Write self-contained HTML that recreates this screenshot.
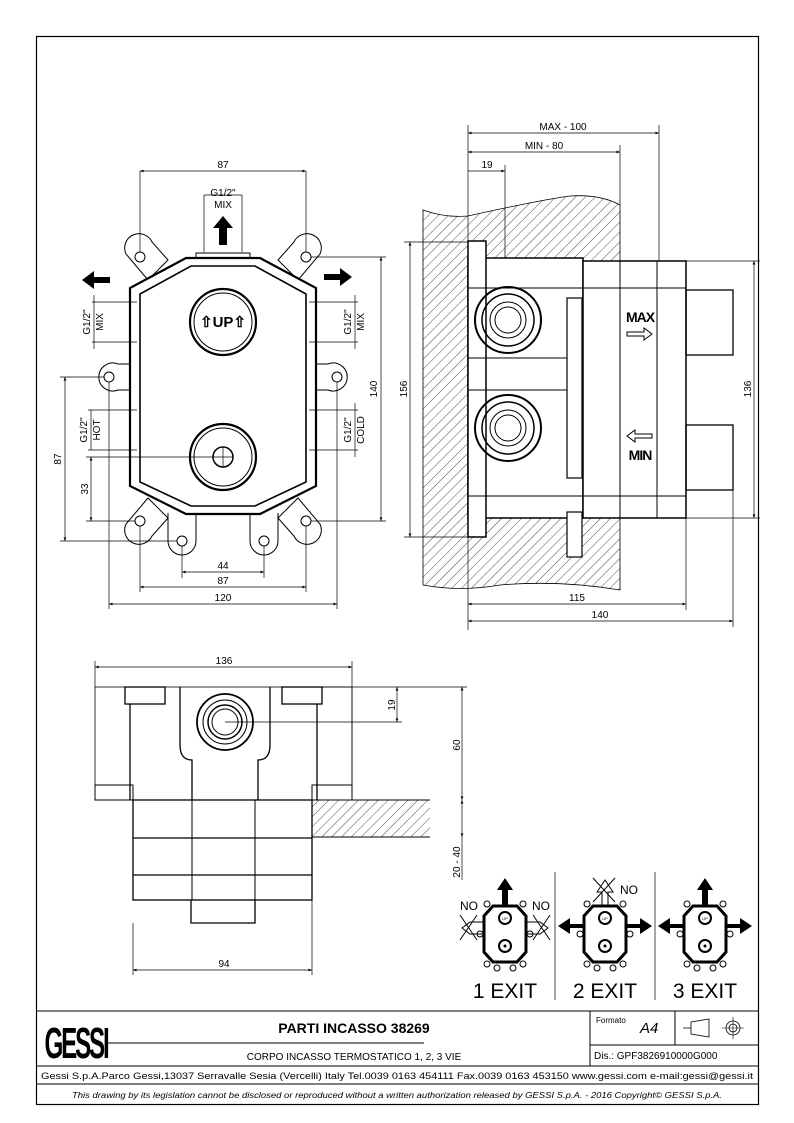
<!DOCTYPE html>
<html><head><meta charset="utf-8"><style>
html,body{margin:0;padding:0;background:#fff}
svg{display:block}
text{font-family:"Liberation Sans",sans-serif;fill:#000}
</style></head><body>
<svg width="794" height="1123" viewBox="0 0 794 1123" xmlns="http://www.w3.org/2000/svg">
<defs>
<pattern id="h" width="7" height="7" patternUnits="userSpaceOnUse" patternTransform="rotate(45)">
<line x1="0" y1="0" x2="0" y2="7" stroke="#000" stroke-width="0.7"/></pattern>
<marker id="a" viewBox="0 0 10 10" refX="10" refY="5" markerWidth="7" markerHeight="5" orient="auto-start-reverse"><path d="M0,1 L10,5 L0,9z" fill="#000"/></marker>
<g id="ico">
<path d="M-12,-24 L12,-24 L21,-14 L21,22 L12,32 L-12,32 L-21,22 L-21,-14z" fill="none" stroke="#000" stroke-width="3"/>
<circle cx="0" cy="-12" r="6" fill="none" stroke="#000" stroke-width="2"/><text x="0" y="-10" font-size="4" text-anchor="middle">UP</text>
<circle cx="0" cy="16" r="6" fill="none" stroke="#000" stroke-width="2"/><circle cx="0" cy="16" r="1.5"/>
<circle cx="-18" cy="-26" r="3" fill="#fff" stroke="#000"/><circle cx="18" cy="-26" r="3" fill="#fff" stroke="#000"/>
<circle cx="-25" cy="4" r="3" fill="#fff" stroke="#000"/><circle cx="25" cy="4" r="3" fill="#fff" stroke="#000"/>
<circle cx="-18" cy="34" r="3" fill="#fff" stroke="#000"/><circle cx="18" cy="34" r="3" fill="#fff" stroke="#000"/>
<circle cx="-8" cy="38" r="3" fill="#fff" stroke="#000"/><circle cx="8" cy="38" r="3" fill="#fff" stroke="#000"/>
</g>
</defs>
<rect x="36.5" y="36.5" width="722" height="1068" fill="none" stroke="#000" stroke-width="1.2"/>

<!-- FRONT VIEW -->
<g fill="none" stroke="#000">
<g stroke-width="1">
<path d="M126,254 a14,14 0 1 1 26,-12 l16,18 -20,20z"/><circle cx="140" cy="257" r="5"/>
<path d="M320,254 a14,14 0 1 0 -26,-12 l-16,18 20,20z"/><circle cx="306" cy="257" r="5"/>
<path d="M132,364 h-14 a14,14 0 1 0 0,26 h14z"/><circle cx="109" cy="377" r="5"/>
<path d="M314,364 h14 a14,14 0 1 1 0,26 h-14z"/><circle cx="337" cy="377" r="5"/>
<path d="M126,524 a14,14 0 1 0 26,12 l16,-18 -20,-20z"/><circle cx="140" cy="521" r="5"/>
<path d="M320,524 a14,14 0 1 1 -26,12 l-16,-18 20,-20z"/><circle cx="306" cy="521" r="5"/>
<path d="M168,513 v28 a14,14 0 0 0 28,0 v-28"/><circle cx="182" cy="541" r="5"/>
<path d="M250,513 v28 a14,14 0 0 0 28,0 v-28"/><circle cx="264" cy="541" r="5"/>
</g>
<path d="M186,258 L260,258 L316,288 L316,486 L260,514 L186,514 L130,486 L130,288z" fill="#fff" stroke-width="2.2"/>
<path d="M191,266 L255,266 L306,294 L306,482 L255,506 L191,506 L140,482 L140,294z" stroke-width="1.6"/>
<rect x="196" y="253" width="54" height="5" stroke-width="1"/>
<circle cx="223" cy="322" r="33" stroke-width="2.2"/><circle cx="223" cy="322" r="29" stroke-width="1"/>
<circle cx="223" cy="457" r="33" stroke-width="2.2"/><circle cx="223" cy="457" r="29" stroke-width="1"/>
<circle cx="223" cy="457" r="10" stroke-width="1.5"/>
<g stroke-width="0.7">
<line x1="213" y1="457" x2="233" y2="457"/><line x1="223" y1="447" x2="223" y2="467"/>
<line x1="140" y1="171" x2="140" y2="252"/><line x1="306" y1="171" x2="306" y2="252"/>
<line x1="140" y1="171" x2="306" y2="171" marker-start="url(#a)" marker-end="url(#a)"/>
<line x1="204" y1="195" x2="204" y2="252"/><line x1="242" y1="195" x2="242" y2="252"/><line x1="204" y1="195" x2="242" y2="195"/>
<line x1="311" y1="257" x2="386" y2="257"/><line x1="311" y1="521" x2="386" y2="521"/>
<line x1="381" y1="257" x2="381" y2="521" marker-start="url(#a)" marker-end="url(#a)"/>
<line x1="60" y1="377" x2="104" y2="377"/><line x1="60" y1="541" x2="177" y2="541"/>
<line x1="65" y1="377" x2="65" y2="541" marker-start="url(#a)" marker-end="url(#a)"/>
<line x1="86" y1="457" x2="213" y2="457"/><line x1="86" y1="521" x2="135" y2="521"/>
<line x1="91" y1="457" x2="91" y2="521" marker-start="url(#a)" marker-end="url(#a)"/>
<line x1="92" y1="302" x2="137" y2="302"/><line x1="92" y1="342" x2="137" y2="342"/><line x1="94" y1="295" x2="94" y2="349"/>
<line x1="309" y1="302" x2="358" y2="302"/><line x1="309" y1="342" x2="358" y2="342"/><line x1="355" y1="295" x2="355" y2="349"/>
<line x1="88" y1="410" x2="137" y2="410"/><line x1="88" y1="450" x2="137" y2="450"/><line x1="91" y1="410" x2="91" y2="450"/>
<line x1="309" y1="410" x2="358" y2="410"/><line x1="309" y1="450" x2="358" y2="450"/><line x1="355" y1="403" x2="355" y2="457"/>
<line x1="182" y1="546" x2="182" y2="578"/><line x1="264" y1="546" x2="264" y2="578"/>
<line x1="182" y1="572" x2="264" y2="572" marker-start="url(#a)" marker-end="url(#a)"/>
<line x1="140" y1="526" x2="140" y2="592"/><line x1="306" y1="526" x2="306" y2="592"/>
<line x1="140" y1="587" x2="306" y2="587" marker-start="url(#a)" marker-end="url(#a)"/>
<line x1="109" y1="382" x2="109" y2="609"/><line x1="337" y1="382" x2="337" y2="609"/>
<line x1="109" y1="604" x2="337" y2="604" marker-start="url(#a)" marker-end="url(#a)"/>
</g>
</g>
<path d="M219,245 v-17 h-6 l10,-12 10,12 h-6 v17z"/>
<path d="M110,277 h-16 v-6 l-12,9 12,9 v-6 h16z"/>
<path d="M324,274 h16 v-6 l12,9 -12,9 v-6 h-16z"/>
<text x="223" y="327" font-size="15" font-weight="bold" text-anchor="middle">⇧UP⇧</text>
<g font-size="10" text-anchor="middle">
<text x="223" y="168">87</text>
<text x="223" y="196">G1/2"</text><text x="223" y="208">MIX</text>
<text x="223" y="569">44</text><text x="223" y="584">87</text><text x="223" y="601">120</text>
<text transform="translate(377,389) rotate(-90)">140</text>
<text transform="translate(61,459) rotate(-90)">87</text>
<text transform="translate(88,489) rotate(-90)">33</text>
<text transform="translate(90,322) rotate(-90)">G1/2"</text><text transform="translate(103,322) rotate(-90)">MIX</text>
<text transform="translate(351,322) rotate(-90)">G1/2"</text><text transform="translate(364,322) rotate(-90)">MIX</text>
<text transform="translate(87,430) rotate(-90)">G1/2"</text><text transform="translate(100,430) rotate(-90)">HOT</text>
<text transform="translate(351,430) rotate(-90)">G1/2"</text><text transform="translate(364,430) rotate(-90)">COLD</text>
</g>

<!-- SIDE VIEW -->
<path d="M423,210 Q445,218 468,216 Q540,200 570,196 Q600,194 620,205 L620,590 Q560,580 500,585 Q460,592 423,585z" fill="url(#h)" stroke="#000" stroke-width="0.8"/>
<rect x="468" y="258" width="115" height="260" fill="#fff" stroke="#000" stroke-width="1.5"/>
<rect x="468" y="241" width="18" height="296" fill="#fff" stroke="#000" stroke-width="1.5"/>
<rect x="567" y="298" width="15" height="180" fill="#fff" stroke="#000" stroke-width="1.2"/>
<rect x="567" y="512" width="15" height="45" fill="#fff" stroke="#000" stroke-width="1.2"/>
<rect x="583" y="261" width="103" height="257" fill="#fff" stroke="#000" stroke-width="1.5"/>
<g fill="none" stroke="#000">
<line x1="620" y1="261" x2="620" y2="518"/><line x1="657" y1="261" x2="657" y2="518"/>
<line x1="468" y1="288" x2="686" y2="288"/><line x1="468" y1="496" x2="686" y2="496"/>
<line x1="468" y1="358" x2="567" y2="358"/><line x1="468" y1="390" x2="567" y2="390"/>
<rect x="686" y="290" width="47" height="65" stroke-width="1.3"/><rect x="686" y="425" width="47" height="65" stroke-width="1.3"/>
<circle cx="508" cy="320" r="33" stroke-width="2"/><circle cx="508" cy="320" r="26" stroke-width="1.5"/><circle cx="508" cy="320" r="18"/><circle cx="508" cy="320" r="13"/>
<circle cx="508" cy="428" r="33" stroke-width="2"/><circle cx="508" cy="428" r="26" stroke-width="1.5"/><circle cx="508" cy="428" r="18"/><circle cx="508" cy="428" r="13"/>
<g stroke-width="0.7">
<line x1="468" y1="125" x2="468" y2="630"/>
<line x1="659" y1="125" x2="659" y2="261"/><line x1="620" y1="145" x2="620" y2="205"/><line x1="505" y1="165" x2="505" y2="258"/>
<line x1="468" y1="133" x2="659" y2="133" marker-start="url(#a)" marker-end="url(#a)"/>
<line x1="468" y1="152" x2="620" y2="152" marker-start="url(#a)" marker-end="url(#a)"/>
<line x1="468" y1="171" x2="505" y2="171" marker-end="url(#a)"/>
<line x1="404" y1="242" x2="468" y2="242"/><line x1="404" y1="537" x2="468" y2="537"/>
<line x1="410" y1="242" x2="410" y2="537" marker-start="url(#a)" marker-end="url(#a)"/>
<line x1="686" y1="261" x2="760" y2="261"/><line x1="686" y1="518" x2="760" y2="518"/>
<line x1="754" y1="261" x2="754" y2="518" marker-start="url(#a)" marker-end="url(#a)"/>
<line x1="686" y1="518" x2="686" y2="610"/><line x1="733" y1="490" x2="733" y2="627"/>
<line x1="468" y1="604" x2="686" y2="604" marker-start="url(#a)" marker-end="url(#a)"/>
<line x1="468" y1="621" x2="733" y2="621" marker-start="url(#a)" marker-end="url(#a)"/>
</g>
<path d="M627,332 h17 v-4 l8,6 -8,6 v-4 h-17z"/><path d="M652,434 h-17 v-4 l-8,6 8,6 v-4 h17z"/>
</g>
<g font-size="10" text-anchor="middle">
<text x="563" y="130">MAX - 100</text><text x="544" y="149">MIN - 80</text><text x="487" y="168">19</text>
<text x="577" y="601">115</text><text x="600" y="618">140</text>
<text transform="translate(407,389) rotate(-90)">156</text>
<text transform="translate(751,389) rotate(-90)">136</text>
</g>
<text x="640" y="322" font-size="14" font-weight="bold" text-anchor="middle" letter-spacing="-1">MAX</text>
<text x="640" y="460" font-size="14" font-weight="bold" text-anchor="middle" letter-spacing="-1">MIN</text>

<!-- BOTTOM VIEW -->
<rect x="312" y="800" width="118" height="37" fill="url(#h)" stroke="none"/>
<g fill="none" stroke="#000">
<line x1="312" y1="800" x2="430" y2="800"/><line x1="312" y1="837" x2="430" y2="837"/>
<rect x="95" y="687" width="257" height="113" stroke-width="0.8"/>
<rect x="125" y="687" width="40" height="17" fill="#fff" stroke-width="1.3"/><rect x="282" y="687" width="40" height="17" fill="#fff" stroke-width="1.3"/>
<rect x="95" y="785" width="38" height="15" fill="#fff"/><rect x="312" y="785" width="40" height="15" fill="#fff"/>
<line x1="130" y1="704" x2="130" y2="800" stroke-width="1.3"/><line x1="317" y1="704" x2="317" y2="800" stroke-width="1.3"/>
<path d="M180,687 V745 Q180,760 192,760 V800 M270,687 V745 Q270,760 258,760 V800" stroke-width="1.3"/>
<rect x="133" y="800" width="179" height="100" stroke-width="1.3"/>
<line x1="133" y1="838" x2="312" y2="838" stroke-width="1.3"/><line x1="133" y1="875" x2="312" y2="875" stroke-width="1.3"/>
<line x1="192" y1="800" x2="192" y2="900"/><line x1="255" y1="800" x2="255" y2="900"/>
<path d="M191,900 V923 H255 V900" stroke-width="1.3"/>
<circle cx="225" cy="722" r="28" stroke-width="1.8"/><circle cx="225" cy="722" r="22"/><circle cx="225" cy="722" r="17" stroke-width="1.5"/><circle cx="225" cy="722" r="13"/>
<g stroke-width="0.7">
<line x1="95" y1="661" x2="95" y2="687"/><line x1="352" y1="661" x2="352" y2="800"/>
<line x1="95" y1="667" x2="352" y2="667" marker-start="url(#a)" marker-end="url(#a)"/>
<line x1="225" y1="722" x2="402" y2="722"/><line x1="322" y1="687" x2="467" y2="687"/>
<line x1="397" y1="687" x2="397" y2="722" marker-start="url(#a)" marker-end="url(#a)"/>
<line x1="462" y1="687" x2="462" y2="800" marker-start="url(#a)" marker-end="url(#a)"/>
<line x1="462" y1="800" x2="462" y2="837" marker-start="url(#a)" marker-end="url(#a)"/>
<line x1="462" y1="837" x2="462" y2="880"/>
<line x1="133" y1="923" x2="133" y2="975"/><line x1="312" y1="900" x2="312" y2="975"/>
<line x1="133" y1="970" x2="312" y2="970" marker-start="url(#a)" marker-end="url(#a)"/>
</g>
</g>
<g font-size="10" text-anchor="middle">
<text x="224" y="664">136</text><text x="224" y="967">94</text>
<text transform="translate(395,705) rotate(-90)">19</text>
<text transform="translate(460,745) rotate(-90)">60</text>
<text transform="translate(460,862) rotate(-90)">20 - 40</text>
</g>

<!-- EXIT ICONS -->
<g stroke="#000" fill="none" stroke-width="0.7">
<line x1="555" y1="872" x2="555" y2="1000"/><line x1="655" y1="872" x2="655" y2="1000"/>
</g>
<g transform="translate(505,930)"><use href="#ico"/>
<path d="M-3,-24 v-16 h-5 l8,-12 8,12 h-5 v16z"/>
<g stroke="#000" fill="none"><path d="M-21,-8 h-14 l-8,6 8,6 h14"/><path d="M21,-8 h14 l8,6 -8,6 h-14"/>
<line x1="-45" y1="-15" x2="-28" y2="10"/><line x1="-45" y1="10" x2="-28" y2="-15"/>
<line x1="45" y1="-15" x2="28" y2="10"/><line x1="45" y1="10" x2="28" y2="-15"/></g>
<text x="-36" y="-20" font-size="12" text-anchor="middle">NO</text><text x="36" y="-20" font-size="12" text-anchor="middle">NO</text>
</g>
<g transform="translate(605,930)"><use href="#ico"/>
<path d="M-21,-6 h-14 v-6 l-12,8 12,8 v-6 h14z M21,-6 h14 v-6 l12,8 -12,8 v-6 h-14z"/>
<g stroke="#000" fill="none"><path d="M-3,-24 v-14 h-5 l8,-12 8,12 h-5 v14"/>
<line x1="-12" y1="-52" x2="10" y2="-28"/><line x1="10" y1="-52" x2="-12" y2="-28"/></g>
<text x="24" y="-36" font-size="12" text-anchor="middle">NO</text>
</g>
<g transform="translate(705,930)"><use href="#ico"/>
<path d="M-3,-24 v-16 h-5 l8,-12 8,12 h-5 v16z"/>
<path d="M-21,-6 h-14 v-6 l-12,8 12,8 v-6 h14z M21,-6 h14 v-6 l12,8 -12,8 v-6 h-14z"/>
</g>
<g font-size="21" text-anchor="middle"><text x="505" y="998">1 EXIT</text><text x="605" y="998">2 EXIT</text><text x="705" y="998">3 EXIT</text></g>

<!-- TITLE BLOCK -->
<g fill="none" stroke="#000" stroke-width="1">
<line x1="36" y1="1011" x2="759" y2="1011"/><line x1="36" y1="1066" x2="759" y2="1066"/><line x1="36" y1="1084" x2="759" y2="1084"/>
<line x1="590" y1="1011" x2="590" y2="1066"/><line x1="675" y1="1011" x2="675" y2="1045"/><line x1="590" y1="1045" x2="759" y2="1045"/>
<line x1="108" y1="1043" x2="424" y2="1043"/>
<path d="M683,1028 h8 M691,1022 v12 l18,3 v-18z" stroke-width="0.8"/>
<circle cx="733" cy="1028" r="7" stroke-width="0.8"/><circle cx="733" cy="1028" r="4" stroke-width="0.8"/>
<line x1="722" y1="1028" x2="744" y2="1028" stroke-width="0.6"/><line x1="733" y1="1017" x2="733" y2="1039" stroke-width="0.6"/>
</g>
<text font-size="44" font-weight="bold" text-anchor="middle" letter-spacing="-4" transform="translate(76,1058) scale(0.55,1)">GESSI</text>
<text x="354" y="1033" font-size="14" font-weight="bold" text-anchor="middle">PARTI INCASSO 38269</text>
<text x="354" y="1060" font-size="10" text-anchor="middle">CORPO INCASSO TERMOSTATICO 1, 2, 3 VIE</text>
<text x="596" y="1023" font-size="8">Formato</text>
<text x="640" y="1033" font-size="15" font-style="italic">A4</text>
<text x="594" y="1059" font-size="10">Dis.: GPF3826910000G000</text>
<text x="397" y="1079" font-size="9.5" text-anchor="middle" textLength="712" lengthAdjust="spacingAndGlyphs">Gessi S.p.A.Parco Gessi,13037 Serravalle Sesia (Vercelli) Italy Tel.0039 0163 454111 Fax.0039 0163 453150 www.gessi.com e-mail:gessi@gessi.it</text>
<text x="397" y="1098" font-size="8" font-style="italic" text-anchor="middle" textLength="650" lengthAdjust="spacingAndGlyphs">This drawing by its legislation cannot be disclosed or reproduced without a written authorization released by GESSI S.p.A. - 2016 Copyright© GESSI S.p.A.</text>
</svg>
</body></html>
